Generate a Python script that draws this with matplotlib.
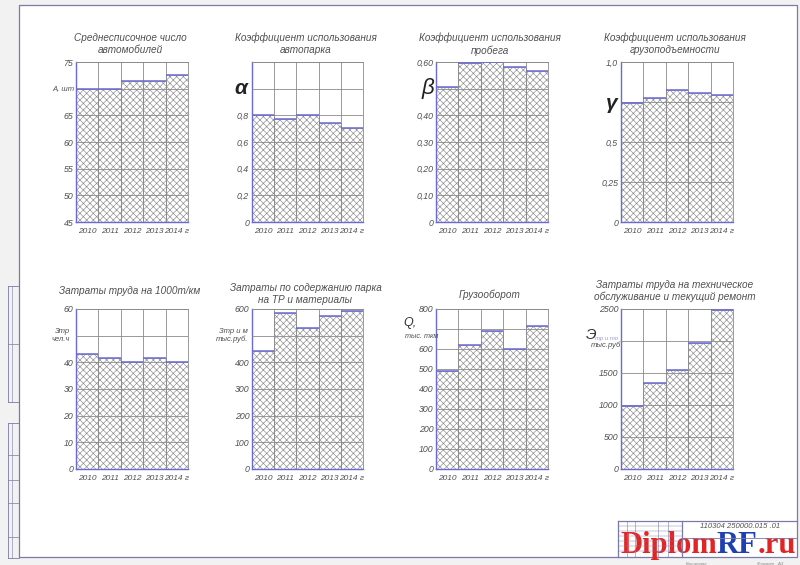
import matplotlib.pyplot as plt
from matplotlib.lines import Line2D
from matplotlib.patches import Rectangle

years = ["2010", "2011", "2012", "2013", "2014 г"]

cars = [70, 70, 71.5, 71.5, 72.5]
alpha_fleet = [0.80, 0.775, 0.80, 0.745, 0.705]
beta_run = [0.505, 0.595, 0.60, 0.58, 0.565]
gamma_load = [0.745, 0.775, 0.825, 0.805, 0.795]
labour_1000 = [43.2, 41.6, 40.1, 41.5, 40.2]
repair_cost = [441, 585, 529, 575, 594]
freight = [490, 621, 691, 600, 717]
service_labour = [992, 1341, 1550, 1962, 2490]

FONT = ["Liberation Sans", "DejaVu Sans"]
TXT = "#505050"
GRID = "#8a8a8a"
BLUE = "#6a6ad2"
FRAME = "#7a7aa8"

plt.rcParams["font.family"] = FONT
plt.rcParams["font.style"] = "italic"
plt.rcParams["hatch.linewidth"] = 0.45

fig = plt.figure(figsize=(8, 5.65), dpi=100, facecolor="#f2f2f2")
W, H = 800, 565


def px(x0, y0, x1, y1):
    # pixel box (top-left origin) -> figure fraction rect
    return [x0 / W, 1 - y1 / H, (x1 - x0) / W, (y1 - y0) / H]


# page + drawing frame
fig.add_artist(Rectangle((19 / W, 1 - 557 / H), 778 / W, 552 / H,
                         transform=fig.transFigure, facecolor="white",
                         edgecolor=FRAME, lw=0.9, zorder=0))


def fline(x0, y0, x1, y1, lw=0.6):
    fig.add_artist(Line2D([x0 / W, x1 / W], [1 - y0 / H, 1 - y1 / H],
                          transform=fig.transFigure, color=FRAME, lw=lw))


# left margin stamps
for (a, b) in [(286, 402), (423, 558)]:
    fline(8, a, 19, a)
    fline(8, a, 8, b)
    fline(8, b, 19, b)
    fline(12, a, 12, b, 0.4)
for y in [344, 455, 480, 503, 537]:
    fline(8, y, 19, y, 0.5)

# title block
fline(618, 521, 797, 521, 0.9)
fline(618, 521, 618, 557, 0.9)
for x in [627, 635, 658, 668]:
    fline(x, 521, x, 557, 0.4)
fline(682, 521, 682, 557, 0.9)
for y in [526, 531, 536, 541, 546, 551]:
    fline(618, y, 682, y, 0.3)
fline(682, 538, 797, 538, 0.6)
fig.text(740 / W, 1 - 527 / H, "110304 250000.015 .01", fontsize=5.5,
         color=TXT, ha="center", va="center")
fig.text(697 / W, 1 - 563.5 / H, "Копировал", fontsize=3.2, color="#888888",
         ha="center", va="center")
fig.text(770 / W, 1 - 563.5 / H, "Формат   А3", fontsize=3.2, color="#888888",
         ha="center", va="center")

charts = [
    dict(title="Среднесписочное число\nавтомобилей", vals=cars,
         lim=(45, 75), ticks=[45, 50, 55, 60, 65, 70, 75],
         labels=["45", "50", "55", "60", "65", "", "75"], box=(76, 62, 188, 222), toff=18),
    dict(title="Коэффициент использования\nавтопарка", vals=alpha_fleet,
         lim=(0, 1.2), ticks=[0, 0.2, 0.4, 0.6, 0.8, 1.0, 1.2],
         labels=["0", "0,2", "0,4", "0,6", "0,8", "", ""], box=(252, 62, 363, 222), toff=18),
    dict(title="Коэффициент использования\nпробега", vals=beta_run,
         lim=(0, 0.6), ticks=[0, 0.1, 0.2, 0.3, 0.4, 0.5, 0.6],
         labels=["0", "0,10", "0,20", "0,30", "0,40", "", "0,60"], box=(436, 62, 548, 222), toff=18),
    dict(title="Коэффициент использования\nгрузоподъемности", vals=gamma_load,
         lim=(0, 1.0), ticks=[0, 0.25, 0.5, 0.75, 1.0],
         labels=["0", "0,25", "0,5", "", "1,0"], box=(621, 62, 733, 222), toff=18),
    dict(title="Затраты труда на 1000т/км", vals=labour_1000,
         lim=(0, 60), ticks=[0, 10, 20, 30, 40, 50, 60],
         labels=["0", "10", "20", "30", "40", "", "60"], box=(76, 309, 188, 469), toff=18),
    dict(title="Затраты по содержанию парка\nна ТР и материалы", vals=repair_cost,
         lim=(0, 600), ticks=[0, 100, 200, 300, 400, 500, 600],
         labels=["0", "100", "200", "300", "400", "", "600"], box=(252, 309, 363, 469), toff=15),
    dict(title="Грузооборот", vals=freight,
         lim=(0, 800), ticks=list(range(0, 801, 100)),
         labels=["0", "100", "200", "300", "400", "500", "600", "", "800"], box=(436, 309, 548, 469), toff=14),
    dict(title="Затраты труда на техническое\nобслуживание и текущий ремонт", vals=service_labour,
         lim=(0, 2500), ticks=[0, 500, 1000, 1500, 2000, 2500],
         labels=["0", "500", "1000", "1500", "", "2500"], box=(621, 309, 733, 469), toff=18),
]

axes = []
for c in charts:
    ax = fig.add_axes(px(*c["box"]))
    axes.append(ax)
    xs = range(len(years))
    ax.bar(xs, c["vals"], width=1.0, color="white", edgecolor=GRID,
           hatch="xxxxx", lw=0.5, zorder=1)
    ax.hlines(c["vals"], [x - 0.5 for x in xs], [x + 0.5 for x in xs],
              color=BLUE, lw=1.1, zorder=3)
    ax.set_xlim(-0.5, 4.5)
    ax.set_ylim(*c["lim"])
    ax.set_yticks(c["ticks"])
    ax.set_yticklabels(c["labels"])
    ax.set_xticks(list(xs))
    ax.set_xticklabels(years)
    ax.set_xticks([0.5, 1.5, 2.5, 3.5], minor=True)
    ax.tick_params(axis="y", length=0, labelsize=6.3, labelcolor=TXT, pad=2)
    ax.tick_params(axis="x", which="both", length=0, labelsize=6,
                   labelcolor=TXT, pad=4)
    ax.set_axisbelow(False)
    ax.grid(axis="y", color=GRID, lw=0.6, zorder=2)
    ax.grid(axis="x", which="minor", color=GRID, lw=0.6, zorder=2)
    ax.set_facecolor("white")
    for s in ["left", "bottom"]:
        ax.spines[s].set_color(BLUE)
        ax.spines[s].set_linewidth(1.0)
    for s in ["top", "right"]:
        ax.spines[s].set_color(GRID)
        ax.spines[s].set_linewidth(0.6)
    ax.annotate(c["title"], xy=(0.5, 1), xycoords="axes fraction",
                xytext=(-2, c["toff"]), textcoords="offset pixels",
                ha="center", va="center", fontsize=7.2, color=TXT,
                linespacing=1.25)


def side(ax, text, y, dx, dy=0, size=5.5, ha="right", color=TXT, **kw):
    ax.annotate(text, xy=(0, y), xycoords=("axes fraction", "data"),
                xytext=(dx, dy), textcoords="offset pixels", ha=ha,
                va="center", fontsize=size, color=color, annotation_clip=False, **kw)


side(axes[0], "A, шт", 70, -2)
side(axes[1], "α", 1.0, -5, size=15, color="#222222", fontweight="bold")
side(axes[2], "β", 0.5, -2, size=16, color="#222222")
side(axes[3], "γ", 0.74, -3, size=15, color="#222222", fontweight="bold")
side(axes[4], "Зтр\nчел.ч", 50, -6)
side(axes[5], "Зтр и м\nтыс.руб.", 500, -4)
side(axes[6], "Q,", 730, -33, size=9, ha="left", color="#333333")
side(axes[6], "тыс. ткм", 663, -31, size=5.2, ha="left")
side(axes[7], "Э", 2090, -35, size=11, ha="left", color="#333333")
side(axes[7], "тр и то", 2040, -26, size=4.3, ha="left", color="#9a9ad0")
side(axes[7], "тыс.руб", 1940, -30, size=5.5, ha="left")

# watermark
ov = fig.add_axes([0, 0, 1, 1], facecolor="none")
ov.set_axis_off()
wm = dict(fontsize=22, fontweight="bold", family="Liberation Serif",
          style="normal", va="baseline")
t1 = ov.text(620 / W, 1 - 553 / H, "Diplom", color="#e32424",
             transform=fig.transFigure, **wm)
t2 = ov.annotate("RF", xy=(1, 1 - 553 / H), xycoords=(t1, "figure fraction"),
                 color="#1f3fb4", **wm)
ov.annotate(".ru", xy=(1, 1 - 553 / H), xycoords=(t2, "figure fraction"),
            color="#e32424", **wm)

fig.savefig("out.png", dpi=100, facecolor=fig.get_facecolor())
